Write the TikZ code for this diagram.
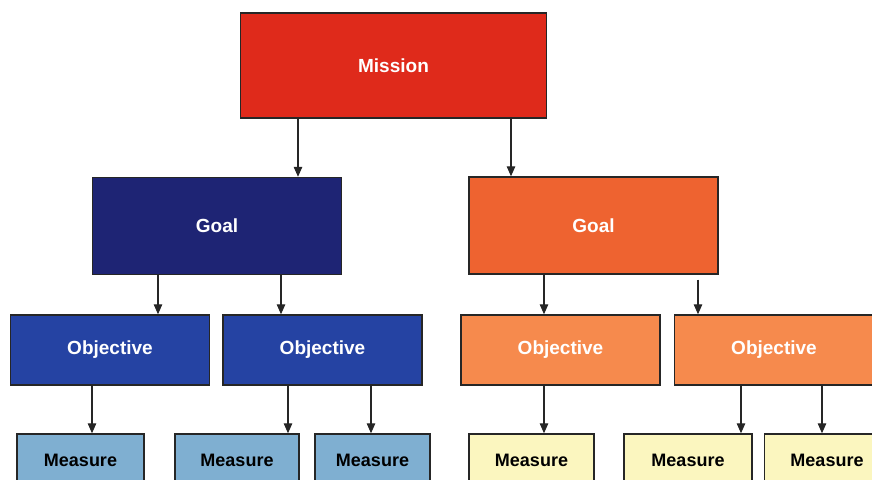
\documentclass[tikz,border=0pt]{standalone}
\usepackage{fontspec}
\setmainfont{Liberation Sans}
\usepackage{tikz}
\usetikzlibrary{arrows.meta,positioning}
\definecolor{missionred}{HTML}{DF2A1B}
\definecolor{goalnavy}{HTML}{1E2474}
\definecolor{goalorange}{HTML}{EE6330}
\definecolor{objblue}{HTML}{2543A3}
\definecolor{objorange}{HTML}{F68A4D}
\definecolor{measblue}{HTML}{7FAFD1}
\definecolor{measyellow}{HTML}{FBF6BF}
\tikzset{
  ar/.style={-{Triangle[length=10pt,width=8.5pt]},line width=1.2pt,black!85},
  box/.style={draw=black!85,line width=1.4pt,inner sep=0pt,text=white,font=\fontsize{19}{21}\selectfont\bfseries},
  goal/.style={box,minimum width=249pt,minimum height=97pt},
  objective/.style={box,minimum width=199pt,minimum height=70pt},
  measure/.style={box,text=black,minimum height=52pt,font=\fontsize{18}{20}\selectfont\bfseries}
}

\begin{document}
\begin{tikzpicture}[x=1pt,y=-1pt]
\clip (0,0) rectangle (872,479);
% top level
\node[box,fill=missionred,minimum width=306pt,minimum height=105pt] (mission) at (393.5,65.5) {Mission};
% goals
\node[goal,fill=goalnavy] (goalL) at (217,226) {Goal};
\node[goal,fill=goalorange] (goalR) at (593.5,225.5) {Goal};
% objectives
\node[objective,fill=objblue] (obj1) at (110,350) {Objective};
\node[objective,fill=objblue] (obj2) at (322.5,350) {Objective};
\node[objective,fill=objorange] (obj3) at (560.5,350) {Objective};
\node[objective,fill=objorange] (obj4) at (774,350) {Objective};
% measures
\node[measure,fill=measblue,minimum width=127pt] (meas1) at (80.5,460) {Measure};
\node[measure,fill=measblue,minimum width=124pt] (meas2) at (237,460) {Measure};
\node[measure,fill=measblue,minimum width=115pt] (meas3) at (372.5,460) {Measure};
\node[measure,fill=measyellow,minimum width=125pt] (meas4) at (531.5,460) {Measure};
\node[measure,fill=measyellow,minimum width=128pt] (meas5) at (688,460) {Measure};
\node[measure,fill=measyellow,minimum width=125pt] (meas6) at (827,460) {Measure};
% arrows
\draw[ar] ([xshift=81pt]goalL.north |- mission.south) -- ([xshift=81pt]goalL.north);
\draw[ar] ([xshift=-82.5pt]goalR.north |- mission.south) -- ([xshift=-82.5pt]goalR.north);
\draw[ar] ([xshift=48pt]obj1.north |- goalL.south) -- ([xshift=48pt]obj1.north);
\draw[ar] ([xshift=-41.5pt]obj2.north |- goalL.south) -- ([xshift=-41.5pt]obj2.north);
\draw[ar] ([xshift=-16.5pt]obj3.north |- goalR.south) -- ([xshift=-16.5pt]obj3.north);
\draw[ar] ([xshift=-76pt,yshift=-5pt]obj4.north |- goalR.south) -- ([xshift=-76pt]obj4.north);
\draw[ar] ([xshift=11.5pt]meas1.north |- obj1.south) -- ([xshift=11.5pt]meas1.north);
\draw[ar] ([xshift=51pt]meas2.north |- obj2.south) -- ([xshift=51pt]meas2.north);
\draw[ar] ([xshift=-1.5pt]meas3.north |- obj2.south) -- ([xshift=-1.5pt]meas3.north);
\draw[ar] ([xshift=12.5pt]meas4.north |- obj3.south) -- ([xshift=12.5pt]meas4.north);
\draw[ar] ([xshift=53pt]meas5.north |- obj4.south) -- ([xshift=53pt]meas5.north);
\draw[ar] ([xshift=-5pt]meas6.north |- obj4.south) -- ([xshift=-5pt]meas6.north);
\end{tikzpicture}
\end{document}
